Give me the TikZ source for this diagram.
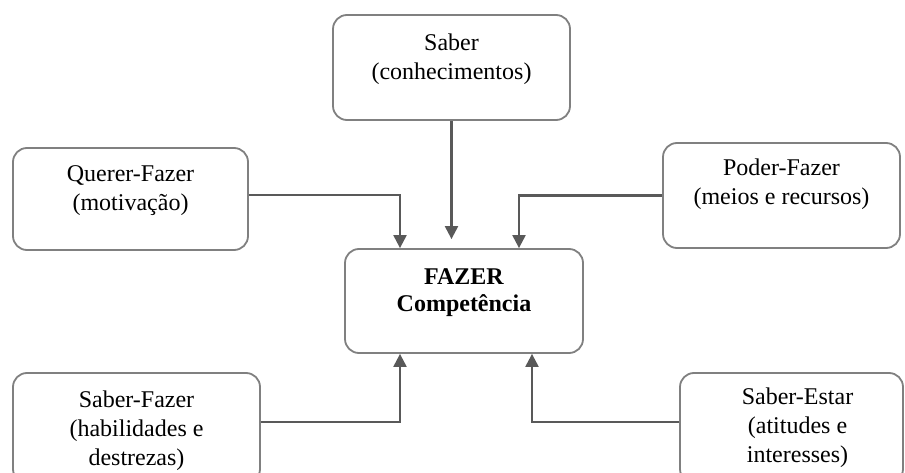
\documentclass[tikz,border=0pt]{standalone}
\usepackage{fontspec}
\setmainfont{Liberation Serif}
\usetikzlibrary{arrows.meta}

\begin{document}
\begin{tikzpicture}[x=1pt, y=-1pt,
    box/.style={rectangle, draw=black!50, line width=1.8pt, rounded corners=14pt},
    lbl/.style={align=center, font=\fontsize{24}{29}\selectfont},
    arr/.style={-{Triangle[length=13pt,width=13pt]}, draw=black!65, line width=2.2pt}]
    \useasboundingbox (0,0) rectangle (905,473);
    \clip (0,0) rectangle (905,473);

    \node (saber) [box, minimum width=237pt, minimum height=105pt] at (451.5,67.5) {};
    \node (querer) [box, minimum width=235pt, minimum height=102pt] at (130.5,199) {};
    \node (poder) [box, minimum width=237pt, minimum height=105pt] at (781.5,195.5) {};
    \node (fazer) [box, minimum width=238pt, minimum height=104pt] at (464,301) {};
    \node (saberfazer) [box, minimum width=247pt, minimum height=110pt] at (136.5,428) {};
    \node (saberestar) [box, minimum width=223pt, minimum height=110pt] at (791.5,428) {};

    \node (saber-txt) [lbl] at ([yshift=8pt]saber.center) {Saber\\(conhecimentos)};
    \node (querer-txt) [lbl] at ([yshift=8pt]querer.center) {Querer-Fazer\\(motivação)};
    \node (poder-txt) [lbl] at ([yshift=11pt]poder.center) {Poder-Fazer\\(meios e recursos)};
    \node (fazer-txt) [lbl, font=\fontsize{24}{27}\selectfont\bfseries] at ([yshift=8pt]fazer.center) {FAZER\\Competência};
    \node (saberfazer-txt) [lbl] at ([yshift=-3pt]saberfazer.center) {Saber-Fazer\\(habilidades e\\destrezas)};
    \node (saberestar-txt) [lbl] at ([xshift=6pt]saberestar.center) {Saber-Estar\\(atitudes e\\interesses)};

    \draw [arr, shorten >=9pt] (saber) -- (saber |- fazer.north);
    \draw [arr] ([yshift=4pt]querer.east) -| ([xshift=-64pt]fazer.north);
    \draw [arr] (poder.west) -| ([xshift=55pt]fazer.north);
    \draw [arr] ([yshift=6pt]saberfazer.east) -| ([xshift=-64pt]fazer.south);
    \draw [arr] ([yshift=6pt]saberestar.west) -| ([xshift=68pt]fazer.south);
\end{tikzpicture}
\end{document}
